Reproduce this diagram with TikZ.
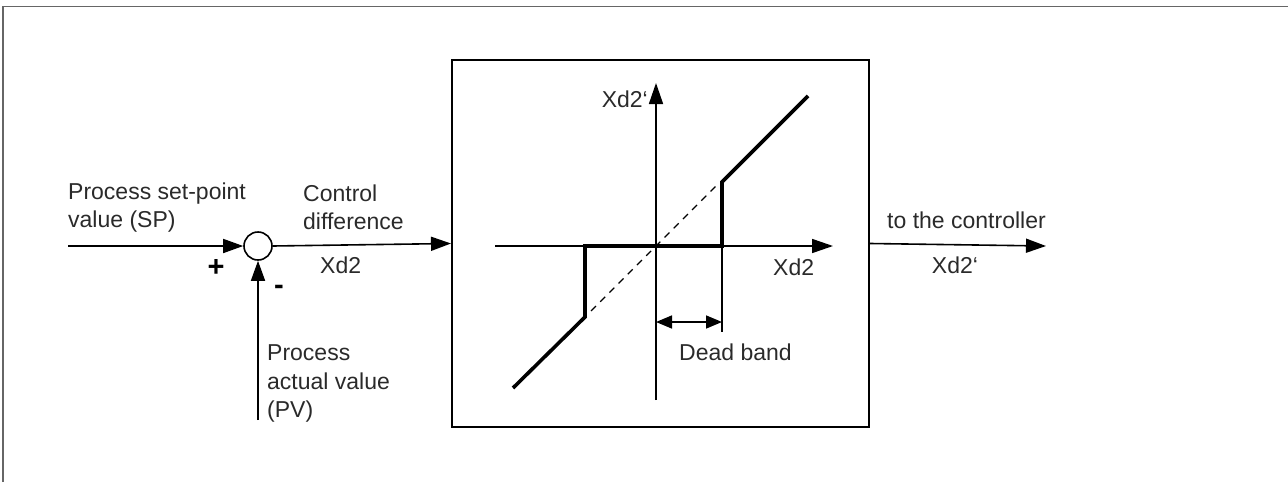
\documentclass[tikz,border=0pt]{standalone}
\usepackage{fontspec}
\setmainfont{Liberation Sans}
\usetikzlibrary{arrows.meta}
\definecolor{txt}{HTML}{2A2A2A}
\definecolor{frame}{HTML}{666666}
\begin{document}
\begin{tikzpicture}[x=1pt,y=-1pt,
  every node/.style={inner sep=0pt, text=txt, font=\fontsize{23}{28.5}\selectfont},
  sig/.style={line width=1.6pt, -{Triangle[length=20pt,width=14pt]}},
  axis/.style={line width=1.6pt, -{Triangle[length=21pt,width=14pt]}},
  thinline/.style={line width=1.6pt},
  curve/.style={line width=3.6pt, line join=miter},
  guide/.style={line width=1.1pt, dash pattern=on 7pt off 6pt},
  band/.style={line width=1.6pt, {Triangle[length=16pt,width=13pt]}-{Triangle[length=16pt,width=13pt]}},
  sign/.style={font=\bfseries\fontsize{29}{30}\selectfont, text=black},
  lbl/.style={anchor=west, align=left}]
\useasboundingbox (0,0) rectangle (1288,482);
% outer frame (top and left edges only)
\draw[frame, line width=1.7pt] (3,482) -- (3,6.5) -- (1288,6.5);

% blocks
\node[circle, draw, line width=1.6pt, minimum size=28pt] (sum) at (258,246) {};
\node[draw, line width=2pt, minimum width=417pt, minimum height=367pt] (blk) at (660.5,243.5) {};

% signal connectors
\coordinate (in) at (68,246);
\coordinate (pv) at (258,420);
\coordinate (out) at (1046,246);
\draw[sig] (in) -- (sum.west);
\draw[sig] (sum.east) -- (blk.west);
\draw[sig] (pv) -- (sum.south);
\draw[sig] (blk.east) -- (out);

% characteristic inside block
\coordinate (O) at (656,246);
\coordinate (xl) at (495,246);
\coordinate (xr) at (833,246);
\coordinate (yb) at (656,400);
\coordinate (yt) at (656,83);
\draw[axis] (xl) -- (xr);
\draw[axis] (yb) -- (yt);
\draw[guide] (591,311) -- (718,184);
\draw[curve] (513,388) -- (585,317) -- (585,246) -- (722,246) -- (722,182) -- (808,96);
\coordinate (db) at (722,332);
\draw[thinline] (722,246) -- (db);
\coordinate (dbl) at (656,322);
\coordinate (dbr) at (722,322);
\draw[band] (dbl) -- (dbr);

% labels
\node[anchor=east] (ylab) at (648,99) {Xd2‘};
\node[anchor=west] (xlab) at (773,267) {Xd2};
\node[anchor=west] (dblab) at (679,352) {Dead band};
\node[lbl] (splab) at (68,207.5) {Process set-point\\value (SP)};
\node[lbl] (cdlab) at (303,207.5) {Control\\difference};
\node[anchor=west] (xd2lab) at (320,265) {Xd2};
\node[sign] (plus) at (216,268) {+};
\node[sign] (minus) at (279,290) {-};
\node[lbl] (pvlab) at (267,383.5) {Process\\actual value\\(PV)};
\node[anchor=west] (tclab) at (887,220) {to the controller};
\node (outlab) at (955,265) {Xd2‘};
\end{tikzpicture}
\end{document}
